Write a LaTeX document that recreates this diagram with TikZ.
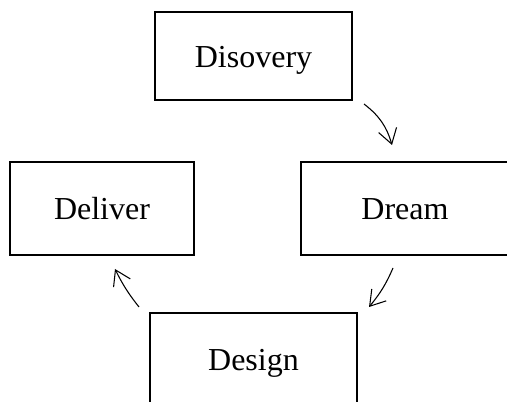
\documentclass[tikz,border=0pt]{standalone}
\usepackage{fontspec}
\setmainfont{Liberation Serif}
\usetikzlibrary{arrows.meta}
\newcommand{\boxheight}{69.75pt}
\newcommand{\boxline}{1.6pt}
\newcommand{\labelsize}{\fontsize{24}{28}\selectfont}

\begin{document}
\begin{tikzpicture}[x=0.75pt,y=-0.75pt]
\tikzstyle{phase}=[draw,line width=\boxline,outer sep=0pt,inner sep=0pt,minimum height=\boxheight,text height=17pt,text depth=0pt,font=\labelsize]
\tikzstyle{cycle}=[line width=0.8pt,-{Straight Barb[length=11pt,width=14pt]}]

\useasboundingbox (0,0) rectangle (507,402);

%% four phases
\node (discovery) [phase, minimum width=147.75pt, minimum height=66pt] at (253.5,56) {Disovery};
\node (dream)     [phase, minimum width=156pt]    at (405,208.5)   {Dream};
\node (deliver)   [phase, minimum width=138pt]    at (102,208.5)   {Deliver};
\node (design)    [phase, minimum width=155.25pt] at (253.5,359.5) {Design};

%% arrows round the cycle
\draw[cycle] ([xshift=9pt,yshift=-3pt]discovery.south east) to[bend left=18] ([xshift=-9.75pt,yshift=12.75pt]dream.north);
\draw[cycle] ([xshift=-9pt,yshift=-9.75pt]dream.south) to[bend left=8] ([xshift=9pt,yshift=4.5pt]design.north east);
\draw[cycle] ([xshift=-8.25pt,yshift=4.5pt]design.north west) to[bend left=6] ([xshift=9.75pt,yshift=-10.5pt]deliver.south);

\end{tikzpicture}
\end{document}
